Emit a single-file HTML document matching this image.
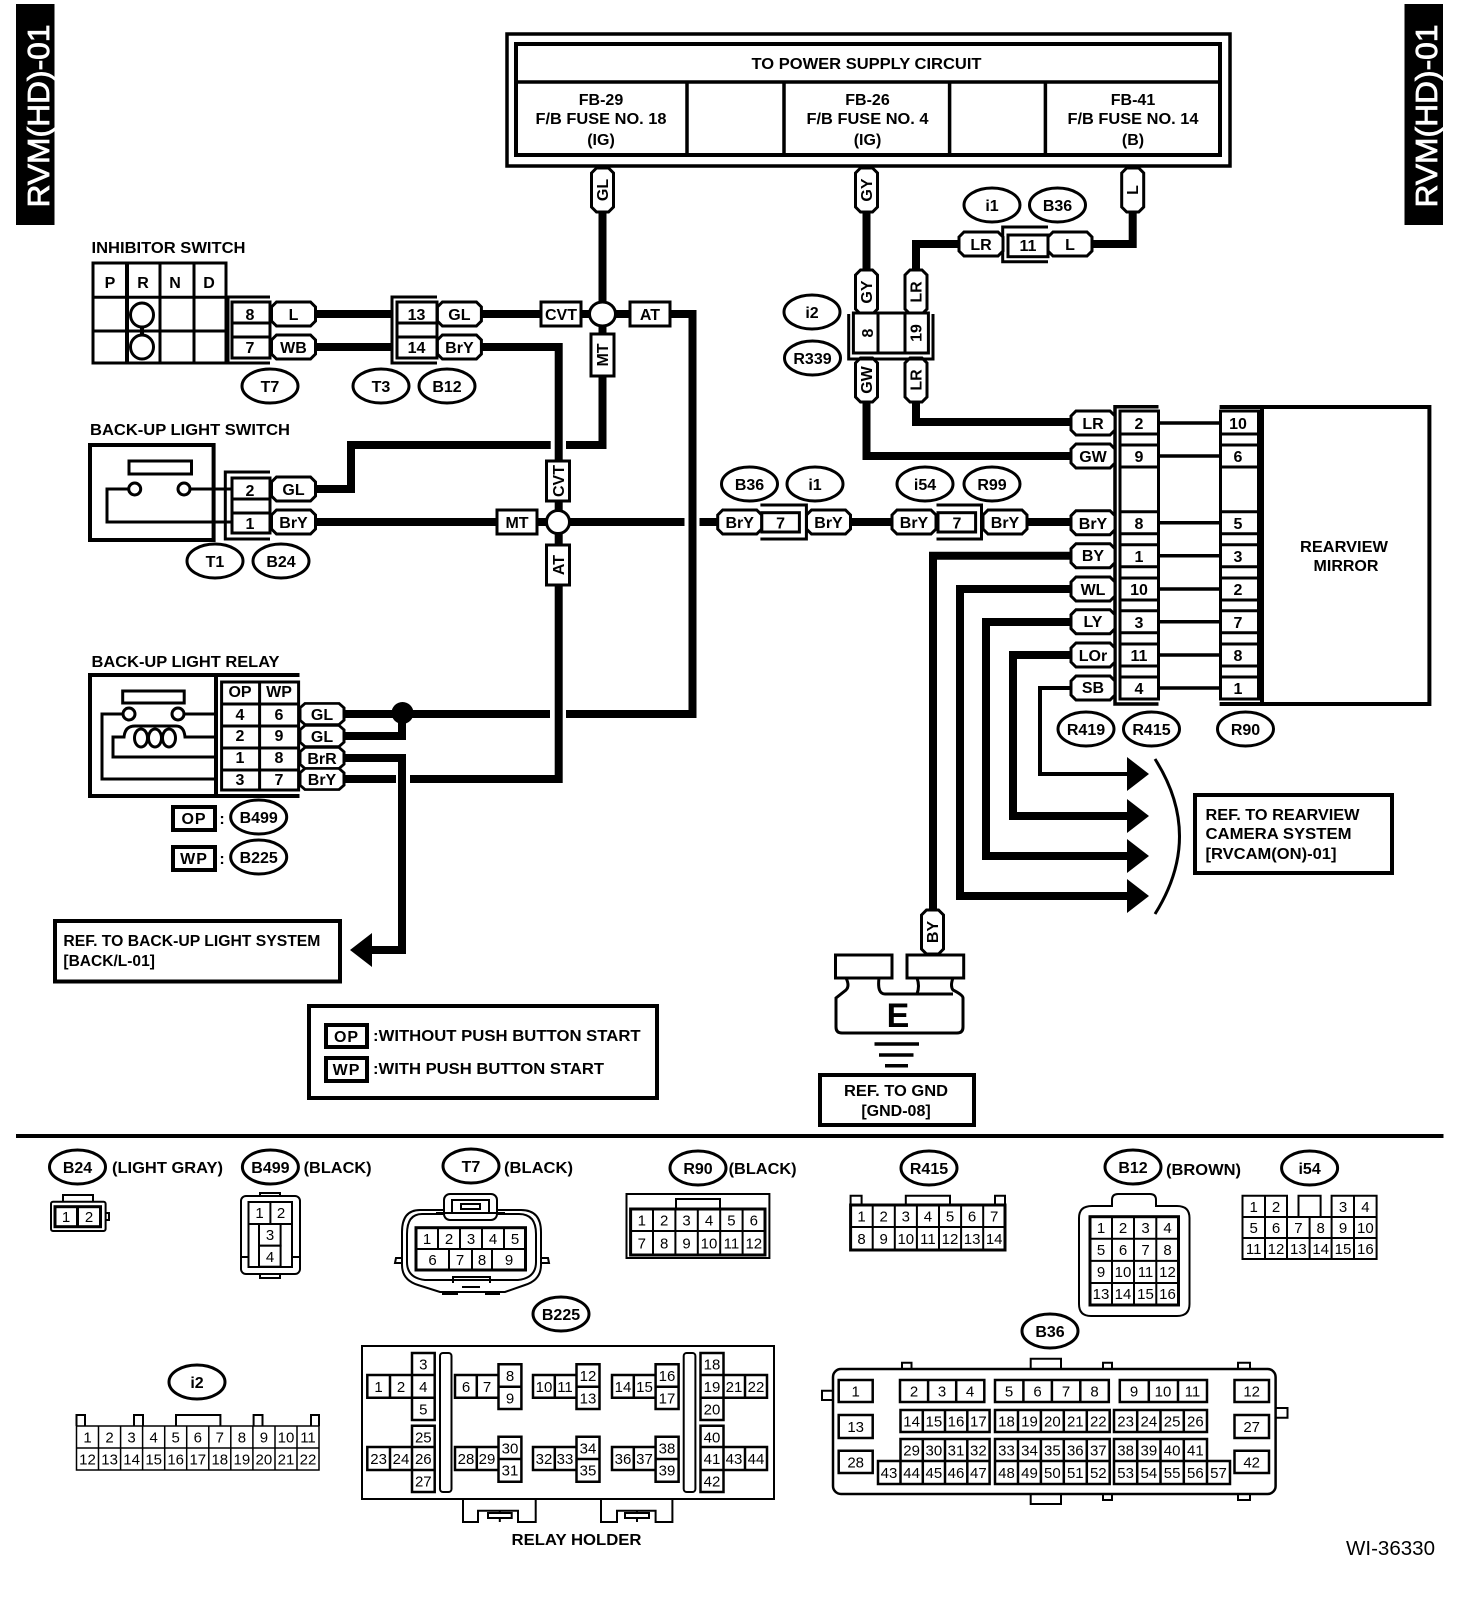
<!DOCTYPE html>
<html><head><meta charset="utf-8"><title>RVM(HD)-01</title>
<style>
html,body{margin:0;padding:0;background:#fff}
svg{display:block}
text{font:bold 16px "Liberation Sans",sans-serif;text-anchor:middle;fill:#000}
text.s{text-anchor:start}
text.n{font:normal 15px "Liberation Sans",sans-serif}
.w{fill:none;stroke:#000;stroke-width:8;stroke-miterlimit:10}
.t{fill:none;stroke:#000;stroke-width:3.5}
.l{fill:none;stroke:#000;stroke-width:3}
.f{fill:#fff;stroke:#000;stroke-width:3}
.g{fill:#fff;stroke:#000;stroke-width:4}
.c{fill:#fff;stroke:#000;stroke-width:2}
.m{fill:none;stroke:#000;stroke-width:2}
</style></head><body>
<svg width="1472" height="1600" viewBox="0 0 1472 1600" xmlns="http://www.w3.org/2000/svg">
<defs>
<polygon id="h" points="-22,-7 -17,-12 17,-12 22,-7 22,7 17,12 -17,12 -22,7"/>
<polygon id="v" points="-11,-17 -6,-22 6,-22 11,-17 11,17 6,22 -6,22 -11,17"/>
<ellipse id="o" rx="28" ry="17"/>
<polygon id="a" points="0,-17 22,0 0,17"/>
</defs>
<rect width="1472" height="1600" fill="#fff"/>

<!-- banners -->
<rect x="16" y="4" width="38.5" height="221"/>
<text transform="translate(49,116) rotate(-90)" textLength="183" lengthAdjust="spacingAndGlyphs" style="font:normal 31px 'Liberation Sans',sans-serif;fill:#fff;stroke:#fff;stroke-width:.8">RVM(HD)-01</text>
<rect x="1404.5" y="4" width="38.5" height="221"/>
<text transform="translate(1437,116) rotate(-90)" textLength="183" lengthAdjust="spacingAndGlyphs" style="font:normal 31px 'Liberation Sans',sans-serif;fill:#fff;stroke:#fff;stroke-width:.8">RVM(HD)-01</text>

<!-- wires -->
<path class="w" d="M602.5 211V445H566M550.7 445H351V489H315M315 314H391M315 347H391M482 314H541M581 314H630M670 314H692.5V714H566M550 714H343M343 736H402V714M482 347H558.7V460M558.7 501V545M558.7 585V779H410M396 779H343M343 758H402V950H372M315 522H497M537 522H684.5M699.5 522H718M850 522H892M1026 522H1070M866.5 211V272M866.5 401V456H1070M916 401V422H1070M916 272V244H959M1092 244H1132.7V211M1070 555.7H933V910M1070 589H960V896H1127M1070 622H986V856H1127M1070 655H1013V816H1127"/>
<path class="t" style="stroke-width:4" d="M1070 688H1040V774H1127"/>
<use href="#a" x="1127" y="774"/><use href="#a" x="1127" y="816"/><use href="#a" x="1127" y="856"/><use href="#a" x="1127" y="896"/>
<polygon points="350,950 372,933 372,967"/>
<path class="l" d="M1155 759Q1204 836 1155 914"/>

<!-- power box -->
<rect class="f" style="stroke-width:3.5" x="507" y="34" width="723" height="132"/>
<rect class="g" x="516" y="44" width="704" height="111"/>
<path class="t" d="M516 82H1220M687 82V155M784 82V155M949.6 82V155M1045.4 82V155"/>
<text x="866.5" y="69" textLength="230" lengthAdjust="spacingAndGlyphs">TO POWER SUPPLY CIRCUIT</text>
<text x="601" y="105">FB-29</text><text x="601" y="124" textLength="131" lengthAdjust="spacingAndGlyphs">F/B FUSE NO. 18</text><text x="601" y="145">(IG)</text>
<text x="867.5" y="105">FB-26</text><text x="867.5" y="124" textLength="122" lengthAdjust="spacingAndGlyphs">F/B FUSE NO. 4</text><text x="867.5" y="145">(IG)</text>
<text x="1133" y="105">FB-41</text><text x="1133" y="124" textLength="131" lengthAdjust="spacingAndGlyphs">F/B FUSE NO. 14</text><text x="1133" y="145">(B)</text>

<!-- inhibitor switch -->
<text class="s" x="91.5" y="253" textLength="154" lengthAdjust="spacingAndGlyphs">INHIBITOR SWITCH</text>
<rect class="f" x="93" y="263" width="133" height="100"/>
<path class="l" d="M93 297.3H226M93 331H226M127 263V363M160 263V363M194 263V363"/>
<path class="t" style="stroke-width:4" d="M127 263V363M142 325V337"/>
<ellipse class="f" cx="142" cy="315" rx="11.5" ry="12"/><ellipse class="f" cx="142" cy="347" rx="11.5" ry="12"/>
<text x="110" y="288">P</text><text x="143" y="288">R</text><text x="175" y="288">N</text><text x="209" y="288">D</text>

<!-- T7 connector -->
<path class="l" d="M270 297H228V363H270"/>
<rect class="f" x="232" y="302" width="38" height="56"/>
<path class="l" d="M232 323H270M232 337H270"/>
<text x="250" y="320">8</text><text x="250" y="353">7</text>
<use class="f" href="#h" x="293.5" y="314"/><use class="f" href="#h" x="293.5" y="347"/>
<text x="293.5" y="320">L</text><text x="293.5" y="353">WB</text>
<!-- T3 connector -->
<path class="l" d="M437 297H392V363H437"/>
<rect class="f" x="397" y="302" width="40" height="56"/>
<path class="l" d="M397 323H437M397 337H437"/>
<text x="416.5" y="320">13</text><text x="416.5" y="353">14</text>
<use class="f" href="#h" x="459.4" y="314"/><use class="f" href="#h" x="459.4" y="347"/>
<text x="459.4" y="320">GL</text><text x="459.4" y="353">BrY</text>
<!-- CVT/AT/MT -->
<rect class="f" x="541" y="302" width="40" height="24"/><text x="561" y="320">CVT</text>
<rect class="f" x="630" y="302" width="40" height="24"/><text x="650" y="320">AT</text>
<rect class="f" x="591" y="334" width="23" height="42"/><text transform="translate(608,355) rotate(-90)">MT</text>
<ellipse class="f" cx="602.5" cy="314" rx="13" ry="12"/>
<use class="f" href="#v" x="602.5" y="190"/><text transform="translate(608,190) rotate(-90)">GL</text>
<rect class="f" x="546.5" y="461" width="23" height="40"/><text transform="translate(564,481) rotate(-90)">CVT</text>
<rect class="f" x="546.5" y="545" width="23" height="40"/><text transform="translate(564,565) rotate(-90)">AT</text>
<circle class="f" cx="558" cy="522" r="11.5"/>
<rect class="f" x="497" y="510" width="40" height="24"/><text x="517" y="528">MT</text>

<!-- ovals -->
<g class="f">
<use href="#o" x="270" y="386"/><use href="#o" x="381" y="386"/><use href="#o" x="447" y="386"/>
<use href="#o" x="215" y="561"/><use href="#o" x="281" y="561"/>
<use href="#o" x="992" y="205"/><use href="#o" x="1057.5" y="205"/><use href="#o" x="812" y="312"/><use href="#o" x="812.5" y="358"/>
<use href="#o" x="749.5" y="484"/><use href="#o" x="815" y="484"/><use href="#o" x="925" y="484"/><use href="#o" x="992" y="484"/>
<use href="#o" x="1086" y="729"/><use href="#o" x="1151.5" y="729"/><use href="#o" x="1245.5" y="729"/>
<use href="#o" x="258.7" y="817"/><use href="#o" x="258.7" y="857"/>
<use href="#o" x="77.5" y="1167"/><use href="#o" x="270.4" y="1167"/><use href="#o" x="471" y="1166"/><use href="#o" x="698" y="1168"/><use href="#o" x="929" y="1168"/><use href="#o" x="1133" y="1167"/><use href="#o" x="1309.6" y="1168"/>
<use href="#o" x="561" y="1314"/><use href="#o" x="197" y="1382"/><use href="#o" x="1050" y="1331"/>
</g>
<text x="270" y="392">T7</text><text x="381" y="392">T3</text><text x="447" y="392">B12</text>
<text x="215" y="567">T1</text><text x="281" y="567">B24</text>
<text x="992" y="211">i1</text><text x="1057.5" y="211">B36</text><text x="812" y="318">i2</text><text x="812.5" y="364">R339</text>
<text x="749.5" y="490">B36</text><text x="815" y="490">i1</text><text x="925" y="490">i54</text><text x="992" y="490">R99</text>
<text x="1086" y="735">R419</text><text x="1151.5" y="735">R415</text><text x="1245.5" y="735">R90</text>
<text x="258.7" y="823">B499</text><text x="258.7" y="863">B225</text>
<text x="77.5" y="1173">B24</text><text x="270.4" y="1173">B499</text><text x="471" y="1172">T7</text><text x="698" y="1174">R90</text><text x="929" y="1174">R415</text><text x="1133" y="1173">B12</text><text x="1309.6" y="1174">i54</text>
<text x="561" y="1320">B225</text><text x="197" y="1388">i2</text><text x="1050" y="1337">B36</text>

<!-- back-up light switch -->
<text class="s" x="90" y="435" textLength="200" lengthAdjust="spacingAndGlyphs">BACK-UP LIGHT SWITCH</text>
<rect class="g" x="90" y="445" width="123.6" height="95"/>
<rect class="f" x="129" y="461" width="62.5" height="13"/>
<path class="l" d="M129 489H107V522H232M190 489H232"/>
<circle class="f" cx="134.7" cy="489" r="6"/><circle class="f" cx="184" cy="489" r="6"/>
<path class="l" d="M270 472H225.3V539H270"/>
<rect class="f" x="232" y="478" width="38" height="55"/>
<path class="l" d="M232 499H270M232 513H270"/>
<text x="250" y="496">2</text><text x="250" y="529">1</text>
<use class="f" href="#h" x="293.5" y="489"/><use class="f" href="#h" x="293.5" y="522"/>
<text x="293.5" y="495">GL</text><text x="293.5" y="528">BrY</text>

<!-- relay -->
<text class="s" x="91.5" y="667" textLength="188" lengthAdjust="spacingAndGlyphs">BACK-UP LIGHT RELAY</text>
<path class="t" style="stroke-width:4" d="M299.5 675H90V796H299.5M216 675V796"/>
<rect class="f" x="122.7" y="691" width="61.5" height="12"/>
<path class="l" d="M123 714H102V779H216M184 714H216M216 737H185Q184 726 176 726H135Q125 726 124 737H113V757H216"/>
<circle class="f" cx="129" cy="714" r="6"/><circle class="f" cx="178" cy="714" r="6"/>
<ellipse class="f" cx="141" cy="738" rx="6.5" ry="9"/><ellipse class="f" cx="155" cy="738" rx="6.5" ry="9"/><ellipse class="f" cx="169" cy="738" rx="6.5" ry="9"/>
<rect class="f" x="221.6" y="682" width="77" height="108"/>
<path class="l" d="M221.6 704H298.6M221.6 726H298.6M221.6 748H298.6M221.6 770H298.6M259.6 682V790"/>
<text x="240" y="697">OP</text><text x="279" y="697">WP</text>
<text x="240" y="720">4</text><text x="279" y="720">6</text>
<text x="240" y="741">2</text><text x="279" y="741">9</text>
<text x="240" y="763">1</text><text x="279" y="763">8</text>
<text x="240" y="785">3</text><text x="279" y="785">7</text>
<g class="f"><use href="#h" x="322" y="714" transform="translate(322 714) scale(1 .88) translate(-322 -714)"/><use href="#h" x="322" y="736" transform="translate(322 736) scale(1 .88) translate(-322 -736)"/><use href="#h" x="322" y="758" transform="translate(322 758) scale(1 .88) translate(-322 -758)"/><use href="#h" x="322" y="779" transform="translate(322 779) scale(1 .88) translate(-322 -779)"/></g>
<text x="322" y="720">GL</text><text x="322" y="742">GL</text><text x="322" y="764">BrR</text><text x="322" y="785">BrY</text>
<circle cx="402.5" cy="713" r="11"/>
<rect class="g" x="173" y="807" width="42" height="23"/><text x="194" y="824" style="letter-spacing:1px">OP</text><text x="222" y="824">:</text>
<rect class="g" x="173" y="847" width="42" height="23"/><text x="194" y="864" style="letter-spacing:1px">WP</text><text x="222" y="864">:</text>

<!-- ref backup -->
<rect class="g" x="55" y="921" width="285" height="60.5"/>
<text class="s" x="63.4" y="946" textLength="257" lengthAdjust="spacingAndGlyphs">REF. TO BACK-UP LIGHT SYSTEM</text>
<text class="s" x="63.4" y="966" textLength="91.5" lengthAdjust="spacingAndGlyphs">[BACK/L-01]</text>

<!-- legend -->
<rect class="g" x="309" y="1006" width="348" height="92"/>
<rect class="g" x="326" y="1025" width="41" height="22"/><text x="346.5" y="1042" style="letter-spacing:1px">OP</text>
<rect class="g" x="326" y="1058" width="41" height="23"/><text x="346.5" y="1075" style="letter-spacing:1px">WP</text>
<text class="s" x="373" y="1041" textLength="267.6" lengthAdjust="spacingAndGlyphs">:WITHOUT PUSH BUTTON START</text>
<text class="s" x="373" y="1074" textLength="231" lengthAdjust="spacingAndGlyphs">:WITH PUSH BUTTON START</text>
<rect x="16" y="1134" width="1427.5" height="4"/>

<!-- i2 / R339 and top right -->
<use class="f" href="#v" x="866.5" y="190"/><text transform="translate(872,190) rotate(-90)">GY</text>
<use class="f" href="#v" x="866.5" y="292"/><text transform="translate(872,292) rotate(-90)">GY</text>
<use class="f" href="#v" x="916" y="292"/><text transform="translate(921.5,292) rotate(-90)">LR</text>
<use class="f" href="#v" x="866.5" y="380"/><text transform="translate(872,380) rotate(-90)">GW</text>
<use class="f" href="#v" x="916" y="380"/><text transform="translate(921.5,380) rotate(-90)">LR</text>
<path class="l" d="M848.7 314V359H933V314"/>
<rect class="f" x="853.4" y="313" width="75" height="40"/>
<path class="l" d="M878 313V353M905 313V353"/>
<text transform="translate(873,333) rotate(-90)">8</text><text transform="translate(921.5,333) rotate(-90)">19</text>
<use class="f" href="#v" x="1132.7" y="190"/><text transform="translate(1138,190) rotate(-90)">L</text>
<path class="l" d="M1048 227H1002.7V261.7H1048"/>
<rect class="f" x="1008" y="235" width="40" height="21.7"/><text x="1028" y="251">11</text>
<use class="f" href="#h" x="981" y="244"/><text x="981" y="250">LR</text>
<use class="f" href="#h" x="1070" y="244"/><text x="1070" y="250">L</text>

<!-- 7 connectors -->
<use class="f" href="#h" x="739.7" y="522"/><text x="739.7" y="528">BrY</text>
<path class="l" d="M760.4 505H806.4V539H760.4"/>
<rect class="f" x="761.8" y="512.7" width="37.6" height="19.3"/><text x="780.6" y="528.5">7</text>
<use class="f" href="#h" x="828.5" y="522"/><text x="828.5" y="528">BrY</text>
<use class="f" href="#h" x="914" y="522"/><text x="914" y="528">BrY</text>
<path class="l" d="M936.5 505H981.5V539H936.5"/>
<rect class="f" x="938" y="512.7" width="37.6" height="19.3"/><text x="957" y="528.5">7</text>
<use class="f" href="#h" x="1005" y="522"/><text x="1005" y="528">BrY</text>

<!-- R415 / R90 -->
<path class="t" d="M1158 423H1220M1158 456H1220M1158 522.7H1220M1158 555.7H1220M1158 589H1220M1158 621.7H1220M1158 655H1220M1158 688H1220"/>
<path class="t" d="M1158.5 406.7H1115V704H1158.5"/>
<rect class="f" x="1120" y="411" width="38.5" height="288"/>
<path class="l" d="M1120 434H1158M1120 445H1158M1120 467H1158M1120 511.7H1158M1120 533.7H1158M1120 544.7H1158M1120 566.7H1158M1120 578H1158M1120 600H1158M1120 610.7H1158M1120 632.7H1158M1120 644H1158M1120 666H1158M1120 677H1158"/>
<rect class="g" x="1262" y="407" width="167.4" height="297"/>
<path class="t" style="stroke-width:4" d="M1219.6 407H1262M1219.6 704H1262"/>
<rect class="f" x="1220.5" y="411" width="38" height="288"/>
<path class="l" d="M1220.5 434H1258.5M1220.5 445H1258.5M1220.5 467H1258.5M1220.5 511.7H1258.5M1220.5 533.7H1258.5M1220.5 544.7H1258.5M1220.5 566.7H1258.5M1220.5 578H1258.5M1220.5 600H1258.5M1220.5 610.7H1258.5M1220.5 632.7H1258.5M1220.5 644H1258.5M1220.5 666H1258.5M1220.5 677H1258.5"/>
<text x="1139" y="429">2</text><text x="1139" y="462">9</text><text x="1139" y="529">8</text><text x="1139" y="562">1</text><text x="1139" y="595">10</text><text x="1139" y="628">3</text><text x="1139" y="661">11</text><text x="1139" y="694">4</text>
<text x="1238" y="429">10</text><text x="1238" y="462">6</text><text x="1238" y="529">5</text><text x="1238" y="562">3</text><text x="1238" y="595">2</text><text x="1238" y="628">7</text><text x="1238" y="661">8</text><text x="1238" y="694">1</text>
<text x="1344" y="552" textLength="88" lengthAdjust="spacingAndGlyphs">REARVIEW</text><text x="1346" y="571">MIRROR</text>
<g class="f"><use href="#h" x="1093" y="423"/><use href="#h" x="1093" y="456"/><use href="#h" x="1093" y="522.7"/><use href="#h" x="1093" y="555.7"/><use href="#h" x="1093" y="589"/><use href="#h" x="1093" y="621.7"/><use href="#h" x="1093" y="655"/><use href="#h" x="1093" y="688"/></g>
<text x="1093" y="429">LR</text><text x="1093" y="462">GW</text><text x="1093" y="529">BrY</text><text x="1093" y="561">BY</text><text x="1093" y="595">WL</text><text x="1093" y="627">LY</text><text x="1093" y="661">LOr</text><text x="1093" y="693">SB</text>

<!-- ref rearview -->
<rect class="g" x="1195" y="795" width="197" height="78"/>
<text class="s" x="1205.5" y="820" textLength="154" lengthAdjust="spacingAndGlyphs">REF. TO REARVIEW</text>
<text class="s" x="1205.5" y="839" textLength="146" lengthAdjust="spacingAndGlyphs">CAMERA SYSTEM</text>
<text class="s" x="1205.5" y="859" textLength="131" lengthAdjust="spacingAndGlyphs">[RVCAM(ON)-01]</text>

<!-- ground -->
<use class="f" href="#v" x="932.5" y="932"/><text transform="translate(938,932) rotate(-90)">BY</text>
<path class="f" d="M846 978Q850 986 846 990L836 998V1027Q836 1033 842 1033H957Q963 1033 963 1027V998Q963 995 953 990Q950 986 953 978H917Q920 986 917 994H885Q877 994 879 978Z"/>
<path class="l" d="M917 994H953"/>
<rect class="f" x="835.5" y="955" width="56.5" height="23"/><rect class="f" x="907" y="955" width="56.7" height="23"/>
<text x="898" y="1027" style="font:bold 34px 'Liberation Sans',sans-serif">E</text>
<path class="t" d="M874.5 1044H919M879 1055H913.5M885 1065.7H908"/>
<rect class="g" x="820" y="1075" width="154" height="50"/>
<text x="896" y="1096" textLength="104" lengthAdjust="spacingAndGlyphs">REF. TO GND</text><text x="896" y="1116">[GND-08]</text>

<!-- connector captions -->
<text class="s" x="112" y="1173" textLength="111" lengthAdjust="spacingAndGlyphs">(LIGHT GRAY)</text>
<text class="s" x="303.6" y="1173" textLength="68" lengthAdjust="spacingAndGlyphs">(BLACK)</text>
<text class="s" x="504" y="1173" textLength="69" lengthAdjust="spacingAndGlyphs">(BLACK)</text>
<text class="s" x="728.6" y="1174" textLength="68" lengthAdjust="spacingAndGlyphs">(BLACK)</text>
<text class="s" x="1166" y="1175" textLength="75" lengthAdjust="spacingAndGlyphs">(BROWN)</text>

<!-- B24 -->
<path class="m" d="M63 1201V1195H93V1201M105.6 1213H109V1220H105.6"/>
<rect class="c" x="51" y="1201.7" width="54.6" height="29.3" rx="2"/>
<rect class="f" x="55" y="1206.7" width="45.5" height="20"/><path class="l" d="M77.5 1206V1227"/>
<text class="n" x="66" y="1222">1</text><text class="n" x="89" y="1222">2</text>

<!-- B499 -->
<rect class="c" x="260" y="1193" width="20" height="85"/>
<rect class="c" x="241" y="1196" width="59" height="78" rx="5"/>
<path class="m" d="M248.5 1202V1267H292V1202M241 1257H248.5M292 1257H300"/>
<rect class="c" x="248.5" y="1202" width="43.5" height="22"/><path class="m" d="M270.4 1202V1224"/>
<rect class="c" x="259" y="1224" width="21.6" height="21.7"/><rect class="c" x="259" y="1245.7" width="21.6" height="21"/>
<text class="n" x="259.5" y="1218">1</text><text class="n" x="281" y="1218">2</text><text class="n" x="270" y="1240">3</text><text class="n" x="270" y="1262">4</text>

<!-- T7 connector view -->
<path class="c" d="M402 1258H396L395 1263 402 1263M541 1258H548L549 1263 541 1263"/>
<path class="m" d="M443 1287V1294H457V1287M486 1287V1294H499V1287"/>
<path class="c" d="M420 1210H521Q541 1210 541 1232V1265Q541 1280 525 1285L505 1292H440L418 1285Q402 1280 402 1265V1232Q402 1210 420 1210Z"/>
<path class="m" d="M422 1214H519Q536 1214 536 1234V1262Q536 1278 518 1280H425Q407 1278 407 1262V1234Q407 1214 422 1214Z"/>
<rect class="c" x="444" y="1194" width="53" height="26" rx="6"/>
<path class="m" d="M452 1200H489V1213H452ZM461 1204H480V1209H461ZM436 1213H452M489 1213H505"/>
<path class="m" d="M462 1287H480M453 1283V1277H490V1283"/>
<rect class="f" x="416" y="1227.7" width="109.5" height="42.3"/>
<path class="m" d="M416 1249H525.5M438 1227.7V1249M460 1227.7V1249M482 1227.7V1249M504 1227.7V1249M449 1249V1270M472 1249V1270M492 1249V1270"/>
<text class="n" x="427" y="1244">1</text><text class="n" x="449" y="1244">2</text><text class="n" x="471" y="1244">3</text><text class="n" x="493" y="1244">4</text><text class="n" x="515" y="1244">5</text>
<text class="n" x="432.6" y="1265">6</text><text class="n" x="460" y="1265">7</text><text class="n" x="482" y="1265">8</text><text class="n" x="509" y="1265">9</text>

<!-- R90 connector view -->
<rect class="c" x="626.5" y="1194" width="142.9" height="64"/>
<path class="m" d="M676 1209V1199H720V1209"/>
<rect class="f" x="630.6" y="1209" width="134.4" height="46"/>
<path class="m" d="M630.6 1231H765M653 1209V1255M675.4 1209V1255M697.8 1209V1255M720.2 1209V1255M742.6 1209V1255"/>
<text class="n" x="641.8" y="1225.5">1</text><text class="n" x="664.2" y="1225.5">2</text><text class="n" x="686.6" y="1225.5">3</text><text class="n" x="709" y="1225.5">4</text><text class="n" x="731.4" y="1225.5">5</text><text class="n" x="753.8" y="1225.5">6</text>
<text class="n" x="641.8" y="1248.5">7</text><text class="n" x="664.2" y="1248.5">8</text><text class="n" x="686.6" y="1248.5">9</text><text class="n" x="709" y="1248.5">10</text><text class="n" x="731.4" y="1248.5">11</text><text class="n" x="753.8" y="1248.5">12</text>

<!-- R415 view -->
<path class="m" d="M850.6 1205V1195.7H861.6V1205M905.8 1205V1195.7H950V1205M995 1205V1195.7H1005V1205"/>
<rect class="f" x="850.6" y="1205" width="154.4" height="45"/>
<path class="m" d="M850.6 1227H1005M872.7 1205V1250M894.8 1205V1250M916.9 1205V1250M939 1205V1250M961.1 1205V1250M983.2 1205V1250"/>
<text class="n" x="861.6" y="1221.5">1</text><text class="n" x="883.7" y="1221.5">2</text><text class="n" x="905.8" y="1221.5">3</text><text class="n" x="927.9" y="1221.5">4</text><text class="n" x="950" y="1221.5">5</text><text class="n" x="972.1" y="1221.5">6</text><text class="n" x="994.2" y="1221.5">7</text>
<text class="n" x="861.6" y="1244">8</text><text class="n" x="883.7" y="1244">9</text><text class="n" x="905.8" y="1244">10</text><text class="n" x="927.9" y="1244">11</text><text class="n" x="950" y="1244">12</text><text class="n" x="972.1" y="1244">13</text><text class="n" x="994.2" y="1244">14</text>

<!-- B12 view -->
<path class="c" d="M1092 1206H1112V1200Q1112 1194 1118 1194H1150Q1156 1194 1156 1200V1206H1177Q1189.5 1206 1189.5 1218V1304Q1189.5 1316 1177 1316H1091Q1079 1316 1079 1304V1218Q1079 1206 1092 1206Z"/>
<rect class="f" x="1090" y="1216.7" width="88.5" height="88.3"/>
<path class="m" d="M1112 1216.7V1305M1134 1216.7V1305M1156.3 1216.7V1305M1090 1238.8H1178.5M1090 1260.9H1178.5M1090 1283H1178.5"/>
<text class="n" x="1101" y="1233">1</text><text class="n" x="1123" y="1233">2</text><text class="n" x="1145.5" y="1233">3</text><text class="n" x="1167.5" y="1233">4</text>
<text class="n" x="1101" y="1255">5</text><text class="n" x="1123" y="1255">6</text><text class="n" x="1145.5" y="1255">7</text><text class="n" x="1167.5" y="1255">8</text>
<text class="n" x="1101" y="1277">9</text><text class="n" x="1123" y="1277">10</text><text class="n" x="1145.5" y="1277">11</text><text class="n" x="1167.5" y="1277">12</text>
<text class="n" x="1101" y="1299">13</text><text class="n" x="1123" y="1299">14</text><text class="n" x="1145.5" y="1299">15</text><text class="n" x="1167.5" y="1299">16</text>

<!-- i54 view -->
<path class="c" d="M1242.5 1195.7H1287V1217H1331.6V1195.7H1376.6V1259H1242.5Z"/>
<path class="m" d="M1298.5 1217V1195.7H1320.6V1217M1265 1195.7V1259M1287 1217V1259M1309.6 1217V1259M1331.6 1217V1259M1354 1195.7V1259M1242.5 1217H1376.6M1242.5 1238H1376.6"/>
<text class="n" x="1253.7" y="1212">1</text><text class="n" x="1276" y="1212">2</text><text class="n" x="1343" y="1212">3</text><text class="n" x="1365.4" y="1212">4</text>
<text class="n" x="1253.7" y="1233">5</text><text class="n" x="1276" y="1233">6</text><text class="n" x="1298.4" y="1233">7</text><text class="n" x="1320.7" y="1233">8</text><text class="n" x="1343" y="1233">9</text><text class="n" x="1365.4" y="1233">10</text>
<text class="n" x="1253.7" y="1254">11</text><text class="n" x="1276" y="1254">12</text><text class="n" x="1298.4" y="1254">13</text><text class="n" x="1320.7" y="1254">14</text><text class="n" x="1343" y="1254">15</text><text class="n" x="1365.4" y="1254">16</text>

<!-- i2 view -->
<path class="m" d="M76.5 1426V1415H85V1426M134 1426V1415H143V1426M176 1426V1415H220.4V1426M253.6 1426V1415H262.5V1426M311 1426V1415H319V1426"/>
<rect class="c" x="76.5" y="1426" width="242.5" height="44" style="stroke-width:1.5"/>
<path class="m" style="stroke-width:1.5" d="M76.5 1448H319M98.5 1426V1470M120.6 1426V1470M142.6 1426V1470M164.7 1426V1470M186.7 1426V1470M208.8 1426V1470M230.8 1426V1470M252.9 1426V1470M275 1426V1470M297 1426V1470"/>
<text class="n" x="87.5" y="1442.5">1</text><text class="n" x="109.6" y="1442.5">2</text><text class="n" x="131.6" y="1442.5">3</text><text class="n" x="153.7" y="1442.5">4</text><text class="n" x="175.7" y="1442.5">5</text><text class="n" x="197.8" y="1442.5">6</text><text class="n" x="219.8" y="1442.5">7</text><text class="n" x="241.9" y="1442.5">8</text><text class="n" x="263.9" y="1442.5">9</text><text class="n" x="286" y="1442.5">10</text><text class="n" x="308" y="1442.5">11</text>
<text class="n" x="87.5" y="1464.5">12</text><text class="n" x="109.6" y="1464.5">13</text><text class="n" x="131.6" y="1464.5">14</text><text class="n" x="153.7" y="1464.5">15</text><text class="n" x="175.7" y="1464.5">16</text><text class="n" x="197.8" y="1464.5">17</text><text class="n" x="219.8" y="1464.5">18</text><text class="n" x="241.9" y="1464.5">19</text><text class="n" x="263.9" y="1464.5">20</text><text class="n" x="286" y="1464.5">21</text><text class="n" x="308" y="1464.5">22</text>

<!-- B225 view -->
<rect class="c" x="362" y="1346" width="412" height="153"/>
<rect class="c" x="440" y="1353" width="11.5" height="139" rx="3"/><rect class="c" x="683.7" y="1353" width="11.7" height="139" rx="3"/>
<path class="m" style="stroke-width:2.5" d="M412 1353H434.7V1420H412ZM412 1375H434.7M412 1397.7H434.7M367.3 1375H412V1397.7H367.3ZM390 1375V1397.7M412 1425.7H434.7V1492H412ZM412 1447H434.7M412 1470H434.7M367.3 1447H412V1470H367.3ZM390 1447V1470M455 1375H498.5V1397.7H455ZM476.8 1375V1397.7M498.5 1364.3H521.4V1409H498.5ZM498.5 1386.7H521.4M533 1375H576.5V1397.7H533ZM554.8 1375V1397.7M576.5 1364.3H599.5V1409H576.5ZM576.5 1386.7H599.5M612 1375H655.6V1397.7H612ZM633.8 1375V1397.7M655.6 1364.3H678.6V1409H655.6ZM655.6 1386.7H678.6M455 1447H498.5V1470H455ZM476.8 1447V1470M498.5 1436.7H521.4V1481.7H498.5ZM498.5 1459H521.4M533 1447H576.5V1470H533ZM554.8 1447V1470M576.5 1436.7H599.5V1481.7H576.5ZM576.5 1459H599.5M612 1447H655.6V1470H612ZM633.8 1447V1470M655.6 1436.7H678.6V1481.7H655.6ZM655.6 1459H678.6M700.5 1353H723.5V1420H700.5ZM700.5 1375H723.5M700.5 1397.7H723.5M723.5 1375H767V1397.7H723.5ZM745 1375V1397.7M700.5 1425.7H723.5V1492H700.5ZM700.5 1447H723.5M700.5 1470H723.5M723.5 1447H767V1470H723.5ZM745 1447V1470"/>
<text class="n" x="423.3" y="1369.5">3</text><text class="n" x="378.6" y="1392">1</text><text class="n" x="401" y="1392">2</text><text class="n" x="423.3" y="1392">4</text><text class="n" x="423.3" y="1414.5">5</text>
<text class="n" x="466" y="1392">6</text><text class="n" x="487" y="1392">7</text><text class="n" x="510" y="1381">8</text><text class="n" x="510" y="1403.5">9</text>
<text class="n" x="544" y="1392">10</text><text class="n" x="565" y="1392">11</text><text class="n" x="588" y="1381">12</text><text class="n" x="588" y="1403.5">13</text>
<text class="n" x="623" y="1392">14</text><text class="n" x="644.5" y="1392">15</text><text class="n" x="667" y="1381">16</text><text class="n" x="667" y="1403.5">17</text>
<text class="n" x="712" y="1369.5">18</text><text class="n" x="712" y="1392">19</text><text class="n" x="734" y="1392">21</text><text class="n" x="756" y="1392">22</text><text class="n" x="712" y="1414.5">20</text>
<text class="n" x="423.3" y="1442.5">25</text><text class="n" x="378.6" y="1464">23</text><text class="n" x="401" y="1464">24</text><text class="n" x="423.3" y="1464">26</text><text class="n" x="423.3" y="1486.5">27</text>
<text class="n" x="466" y="1464">28</text><text class="n" x="487" y="1464">29</text><text class="n" x="510" y="1453.5">30</text><text class="n" x="510" y="1475.5">31</text>
<text class="n" x="544" y="1464">32</text><text class="n" x="565" y="1464">33</text><text class="n" x="588" y="1453.5">34</text><text class="n" x="588" y="1475.5">35</text>
<text class="n" x="623" y="1464">36</text><text class="n" x="644.5" y="1464">37</text><text class="n" x="667" y="1453.5">38</text><text class="n" x="667" y="1475.5">39</text>
<text class="n" x="712" y="1442.5">40</text><text class="n" x="712" y="1464">41</text><text class="n" x="734" y="1464">43</text><text class="n" x="756" y="1464">44</text><text class="n" x="712" y="1486.5">42</text>
<path class="m" d="M463 1499V1522H478V1510.7H518V1522H535.7V1499M488 1513H511.7V1518H488ZM499.8 1510.7V1513M499.8 1518V1522M601 1499V1522H617V1510.7H655.6V1522H672.4V1499M625 1513H649V1518H625ZM637 1510.7V1513M637 1518V1522"/>
<text x="576.5" y="1545" textLength="130" lengthAdjust="spacingAndGlyphs">RELAY HOLDER</text>

<!-- B36 view -->
<path class="m" d="M1030.7 1369V1358.7H1061V1369M902 1369V1362.7H911.5V1369M1103 1369V1362.7H1112V1369M1238 1369V1362.7H1250V1369M1030.7 1494V1504H1061V1494M1103 1494V1500H1112V1494M1238 1494V1500H1250V1494M833 1390.7H822V1400H833M1275.6 1408H1287.5V1417.7H1275.6"/>
<rect class="c" x="833" y="1369" width="442.6" height="125" rx="8" style="stroke-width:2.5"/>
<path class="m" style="stroke-width:2.5" d="M838.7 1380H872.7V1402H838.7ZM838.7 1415H872.7V1438H838.7ZM838.7 1450.7H872.7V1473H838.7ZM1234.5 1380H1269V1402H1234.5ZM1234.5 1415H1269V1438H1234.5ZM1234.5 1450.7H1269V1473H1234.5ZM900 1380H984.3V1402H900ZM928.1 1380V1402M956.2 1380V1402M995 1380H1108.8V1402H995ZM1023.4 1380V1402M1051.9 1380V1402M1080.3 1380V1402M1119.8 1380H1207V1402H1119.8ZM1148.8 1380V1402M1178 1380V1402M900.5 1410H989.6V1432H900.5ZM922.8 1410V1432M945 1410V1432M967.3 1410V1432M995 1410H1109.7V1432H995ZM1018 1410V1432M1040.9 1410V1432M1063.8 1410V1432M1086.8 1410V1432M1114 1410H1207V1432H1114ZM1137.2 1410V1432M1160.5 1410V1432M1183.8 1410V1432M900.5 1439H989.6V1461H900.5ZM922.8 1439V1484M945 1439V1484M967.3 1439V1484M995 1439H1109.7V1484H995ZM995 1461H1109.7M1018 1439V1484M1040.9 1439V1484M1063.8 1439V1484M1086.8 1439V1484M1114 1439H1207V1461H1114ZM1137.2 1439V1484M1160.5 1439V1484M1183.8 1439V1484M878 1461H989.6V1484H878ZM900.5 1461V1484M1114 1461H1230V1484H1114ZM1207 1461V1484"/>
<text class="n" x="855.7" y="1396.5">1</text><text class="n" x="855.7" y="1432">13</text><text class="n" x="855.7" y="1467.5">28</text><text class="n" x="1251.7" y="1396.5">12</text><text class="n" x="1251.7" y="1432">27</text><text class="n" x="1251.7" y="1467.5">42</text>
<text class="n" x="914" y="1396.5">2</text><text class="n" x="942" y="1396.5">3</text><text class="n" x="970" y="1396.5">4</text><text class="n" x="1009" y="1396.5">5</text><text class="n" x="1037.6" y="1396.5">6</text><text class="n" x="1066" y="1396.5">7</text><text class="n" x="1094.5" y="1396.5">8</text><text class="n" x="1134" y="1396.5">9</text><text class="n" x="1163" y="1396.5">10</text><text class="n" x="1192.5" y="1396.5">11</text>
<text class="n" x="911.6" y="1426.5">14</text><text class="n" x="933.9" y="1426.5">15</text><text class="n" x="956" y="1426.5">16</text><text class="n" x="978.4" y="1426.5">17</text><text class="n" x="1006.5" y="1426.5">18</text><text class="n" x="1029.5" y="1426.5">19</text><text class="n" x="1052.4" y="1426.5">20</text><text class="n" x="1075.3" y="1426.5">21</text><text class="n" x="1098.3" y="1426.5">22</text><text class="n" x="1125.6" y="1426.5">23</text><text class="n" x="1148.9" y="1426.5">24</text><text class="n" x="1172.1" y="1426.5">25</text><text class="n" x="1195.4" y="1426.5">26</text>
<text class="n" x="911.6" y="1455.5">29</text><text class="n" x="933.9" y="1455.5">30</text><text class="n" x="956" y="1455.5">31</text><text class="n" x="978.4" y="1455.5">32</text><text class="n" x="1006.5" y="1455.5">33</text><text class="n" x="1029.5" y="1455.5">34</text><text class="n" x="1052.4" y="1455.5">35</text><text class="n" x="1075.3" y="1455.5">36</text><text class="n" x="1098.3" y="1455.5">37</text><text class="n" x="1125.6" y="1455.5">38</text><text class="n" x="1148.9" y="1455.5">39</text><text class="n" x="1172.1" y="1455.5">40</text><text class="n" x="1195.4" y="1455.5">41</text>
<text class="n" x="889" y="1478">43</text><text class="n" x="911.6" y="1478">44</text><text class="n" x="933.9" y="1478">45</text><text class="n" x="956" y="1478">46</text><text class="n" x="978.4" y="1478">47</text><text class="n" x="1006.5" y="1478">48</text><text class="n" x="1029.5" y="1478">49</text><text class="n" x="1052.4" y="1478">50</text><text class="n" x="1075.3" y="1478">51</text><text class="n" x="1098.3" y="1478">52</text><text class="n" x="1125.6" y="1478">53</text><text class="n" x="1148.9" y="1478">54</text><text class="n" x="1172.1" y="1478">55</text><text class="n" x="1195.4" y="1478">56</text><text class="n" x="1218.5" y="1478">57</text>

<text class="s" x="1346" y="1555" textLength="89" lengthAdjust="spacingAndGlyphs" style="font:normal 20px 'Liberation Sans',sans-serif">WI-36330</text>
</svg>
</body></html>
